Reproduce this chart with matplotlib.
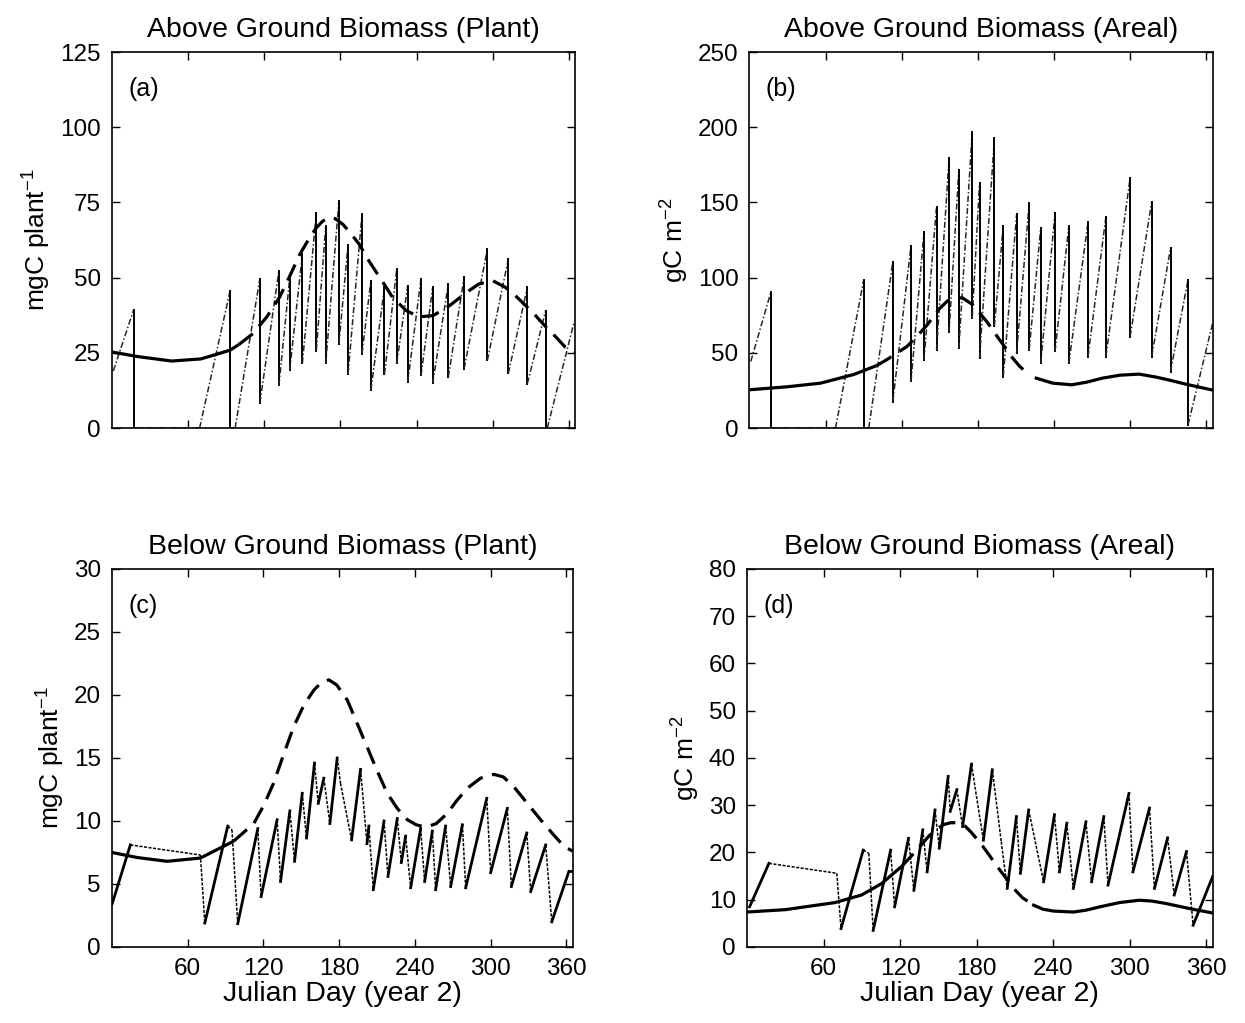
import numpy as np
import matplotlib
matplotlib.use('Agg')
import matplotlib.pyplot as plt

plt.rcParams['font.family'] = ['Liberation Sans', 'DejaVu Sans']
plt.rcParams['mathtext.default'] = 'regular'

# ---- (a) above ground, per plant ----
a_smooth_day = [0, 20, 47, 70, 93, 100, 111, 122, 132, 140, 148, 155, 161, 166, 171, 176, 182, 188,
                195, 201, 208, 215, 221, 232, 242, 253, 266, 279, 289, 300, 310, 318, 326, 334,
                342, 350, 357, 365]
a_smooth_val = [25.3, 23.8, 22.3, 23.0, 25.9, 27.8, 31.4, 37.0, 43.5, 50.5, 57.8, 62.8, 66.6, 68.8,
                70.0, 69.6, 67.7, 64.8, 61.0, 56.5, 52.0, 47.5, 43.5, 39.0, 37.0, 37.4, 40.7, 45.0,
                47.9, 49.0, 46.8, 44.0, 40.7, 37.3, 33.6, 30.2, 27.0, 25.0]
a_saw_day = [1, 17, 17, 69, 93, 93, 97, 116.5, 116.5, 131.5, 131.5, 140, 140, 150, 150, 161, 161,
             168.4, 168.4, 178.8, 178.8, 186, 186, 197, 197, 204, 204, 214.7, 214.7, 224.4, 224.4,
             233, 233, 243.5, 243.5, 252.7, 252.7, 265, 265, 277.5, 277.5, 295.8, 295.8, 312.3,
             312.3, 327.3, 327.3, 341.7, 341.7, 343, 364]
a_saw_val = [19, 39.3, 0, 0, 45.6, 0, 0, 49.7, 8.3, 52.3, 14.2, 49.7, 19.2, 57.9, 21.5, 71.6, 25.8,
             67.2, 21.5, 75.5, 28, 61, 18, 71.2, 24.8, 49, 12.6, 46.8, 18, 53, 21.5, 47.4, 15.3,
             49.6, 17.5, 46.8, 14.9, 47.9, 17, 50.1, 19.8, 59.5, 22.5, 56.2, 18.2, 46.8, 14.8, 39,
             0, 0, 35]

# ---- (b) above ground, areal ----
b_smooth_day = [0, 30, 56, 82, 100, 108, 124, 132, 140, 150, 156, 161, 168, 176, 181, 187, 193,
                200, 206, 213, 219, 226, 239, 254, 266, 278, 292, 307, 320, 330, 345, 365]
b_smooth_val = [25.5, 27.5, 29.9, 35.6, 41.5, 45.4, 54.2, 61.0, 68.6, 79.7, 84.5, 86.8, 86.5, 82.0,
                77.0, 70.8, 63.5, 55.4, 48.0, 41.0, 36.5, 33.2, 29.9, 28.8, 30.6, 33.2, 35.2, 35.9,
                34.0, 32.1, 29.0, 25.3]
b_saw_day = [1, 17, 17, 67.8, 90, 90, 94, 113, 113, 127.3, 127.3, 137.5, 137.5, 147.4, 147.4, 157.3,
             157.3, 165, 165, 175.5, 175.5, 181.3, 181.3, 193, 193, 200, 200, 210.5, 210.5, 220.4,
             220.4, 229.5, 229.5, 240.8, 240.8, 251.7, 251.7, 266.8, 266.8, 280.9, 280.9, 300, 300,
             317, 317, 331.8, 331.8, 345.6, 345.6, 365]
b_saw_val = [44.3, 90.8, 0, 0, 98.5, 0, 0, 110.7, 17.7, 121.3, 31, 130.1, 45.4, 147.2, 52, 179.3,
             64.2, 171.6, 53.1, 197, 73, 162.7, 46.5, 192.6, 68, 134.6, 34.3, 142.1, 49.8, 149.4,
             52, 132.8, 43.2, 142.8, 51, 134.6, 43.2, 136.8, 47.6, 140.6, 47.6, 166.5, 60.9, 150.5,
             47.6, 119.5, 37.6, 98.5, 2.2, 69.7]

# ---- (c) below ground, per plant ----
c_smooth_day = [0, 20, 43.6, 70, 96.4, 112.3, 120, 128, 136, 144, 152, 160, 166, 171.8, 178, 186.4,
                194, 202, 210, 218, 226, 234, 241, 248.5, 257, 265.6, 273, 281.5, 292, 302.6, 310,
                318.5, 329, 339.6, 349, 358, 365]
c_smooth_val = [7.5, 7.1, 6.8, 7.06, 8.4, 9.8, 11.2, 13.0, 15.3, 17.5, 19.2, 20.4, 21.0, 21.2, 20.8,
                19.6, 17.8, 15.9, 14.0, 12.2, 11.0, 10.1, 9.7, 9.5, 9.8, 10.6, 11.6, 12.6, 13.4, 13.7,
                13.5, 12.7, 11.4, 10.1, 9.0, 8.0, 7.6]
c_saw_day = [0, 14.5, 70, 73.5, 91.7, 95, 99.6, 115.5, 118.1, 130.8, 133.5, 140.9, 144.6, 150.7,
             154.1, 160.4, 163.4, 167.8, 172.6, 178.4, 181, 189.8, 196.9, 202, 203.5, 207, 215.5,
             218.6, 226, 229.2, 232.6, 236.6, 244.5, 247.7, 253.8, 256.4, 264.3, 268.3, 277.6,
             280.2, 296.9, 300, 313.2, 316.4, 328.6, 331.7, 343.6, 348.4, 362, 365]
c_saw_val = [3.4, 8.1, 7.3, 1.9, 9.6, 9.3, 1.85, 9.4, 4.0, 10.1, 5.2, 10.8, 6.8, 12.2, 8.65, 14.6,
             11.4, 13.4, 9.8, 15.0, 13.0, 8.5, 14.1, 8.2, 9.6, 4.55, 10.0, 5.6, 10.2, 6.7, 8.8, 4.7,
             9.4, 5.2, 9.2, 4.55, 9.6, 4.8, 9.7, 4.7, 11.8, 5.9, 11.0, 4.8, 9.05, 4.4, 8.1, 2.0,
             6.0, 6.0]

# ---- (d) below ground, areal ----
d_smooth_day = [0, 30, 69, 89.8, 105.4, 121, 129, 136.5, 143, 149.5, 154, 159.8, 165, 170.2, 176,
                183.2, 190, 196.2, 203, 209, 216, 224.7, 232, 240.2, 255.8, 266, 276.6, 292, 307.7,
                318, 328.5, 349.2, 365]
d_smooth_val = [7.4, 7.9, 9.4, 11.0, 13.4, 17.0, 19.3, 21.6, 23.6, 25.1, 25.9, 26.3, 26.3, 25.8,
                24.2, 21.9, 19.4, 17.0, 14.6, 12.4, 10.4, 8.85, 8.0, 7.6, 7.4, 7.8, 8.5, 9.4, 9.9,
                9.7, 9.2, 8.0, 7.2]
d_saw_day = [2, 17.2, 70.4, 73.7, 91.1, 95.5, 98.9, 112.6, 115.7, 126.6, 130.8, 137.8, 141.2, 147.4,
             150.7, 157.7, 159.3, 164.5, 169, 176, 179.3, 185.3, 192.3, 199.3, 204, 211.2, 214.3,
             220.8, 232.5, 241, 244.9, 250.7, 255.8, 265.7, 270.1, 279.7, 283, 299.4, 302.5,
             315.5, 319.4, 329.7, 334.9, 344.5, 349.7, 365]
d_saw_val = [8.5, 17.7, 15.6, 3.9, 20.5, 19.8, 3.5, 20.5, 8.5, 23, 12, 24.8, 15.9, 29, 20.9, 36.1,
             28.7, 33.3, 25.5, 38.7, 32.9, 22.6, 37.5, 22.3, 12.4, 27.6, 15.6, 29, 13.8, 28, 15.9,
             26.2, 12.4, 26.5, 13.8, 27.6, 13.1, 32.5, 15.9, 29.4, 12.4, 23.1, 11, 20.2, 4.6, 14.9]

titles = ['Above Ground Biomass (Plant)', 'Above Ground Biomass (Areal)',
          'Below Ground Biomass (Plant)', 'Below Ground Biomass (Areal)']
ylabels = ['mgC plant$^{-1}$', 'gC m$^{-2}$', 'mgC plant$^{-1}$', 'gC m$^{-2}$']
panel_tags = ['(a)', '(b)', '(c)', '(d)']
y_limits = [125, 250, 30, 80]
y_steps = [25, 50, 5, 10]
day_ticks = [60, 120, 180, 240, 300, 360]
dash_spans = [(100, 400), (100, 225.7), (96.4, 400), (121, 224.7)]


def draw_smooth(ax, days, vals, span):
    days = np.asarray(days)
    vals = np.asarray(vals)
    d0, d1 = span
    left = days <= d0
    mid = (days >= d0) & (days <= d1)
    right = days >= d1
    ax.plot(days[left], vals[left], color='black', lw=2.3, solid_capstyle='butt')
    ax.plot(days[mid], vals[mid], color='black', lw=2.3, dashes=(5.5, 3), dash_capstyle='butt')
    if right.sum() > 1:
        ax.plot(days[right], vals[right], color='black', lw=2.3)


def draw_saw(ax, days, vals, up_kw, down_kw):
    for i in range(len(days) - 1):
        kw = up_kw if vals[i + 1] >= vals[i] else down_kw
        ax.plot(days[i:i + 2], vals[i:i + 2], **kw)


fig = plt.figure(figsize=(12.45, 10.23), dpi=100)
positions = [[0.090, 0.5815, 0.372, 0.3676],
             [0.602, 0.5815, 0.372, 0.3676],
             [0.090, 0.0743, 0.370, 0.3695],
             [0.600, 0.0743, 0.374, 0.3695]]

smooth_sets = [(a_smooth_day, a_smooth_val), (b_smooth_day, b_smooth_val),
               (c_smooth_day, c_smooth_val), (d_smooth_day, d_smooth_val)]
saw_sets = [(a_saw_day, a_saw_val), (b_saw_day, b_saw_val),
            (c_saw_day, c_saw_val), (d_saw_day, d_saw_val)]

thin_up = dict(color='0.15', lw=1.1, dashes=(4, 1.5, 1, 1.5))
hard_drop = dict(color='black', lw=1.4)
thick_up = dict(color='black', lw=2.0)
dotted_down = dict(color='black', lw=1.1, dashes=(2, 1))

for i in range(4):
    ax = fig.add_axes(positions[i])
    sd, sv = saw_sets[i]
    if i < 2:
        draw_saw(ax, sd, sv, thin_up, hard_drop)
    else:
        draw_saw(ax, sd, sv, thick_up, dotted_down)
    draw_smooth(ax, smooth_sets[i][0], smooth_sets[i][1], dash_spans[i])

    ax.set_xlim(0, 365)
    ax.set_ylim(0, y_limits[i])
    ax.set_xticks(day_ticks)
    ax.set_yticks(np.arange(0, y_limits[i] + 1, y_steps[i]))
    ax.tick_params(direction='in', top=True, right=True, length=6, width=1,
                   labelsize=17.5, pad=8)
    if i < 2:
        ax.tick_params(labelbottom=False)
    else:
        ax.set_xlabel('Julian Day (year 2)', fontsize=20.5, labelpad=1)
    for sp in ax.spines.values():
        sp.set_linewidth(1.2)
    ax.set_title(titles[i], fontsize=20.5, pad=11)
    ax.set_ylabel(ylabels[i], fontsize=19, labelpad=5)
    ax.text(0.035, 0.935, panel_tags[i], transform=ax.transAxes, fontsize=18, va='top')

fig.savefig('out.png', dpi=100)
